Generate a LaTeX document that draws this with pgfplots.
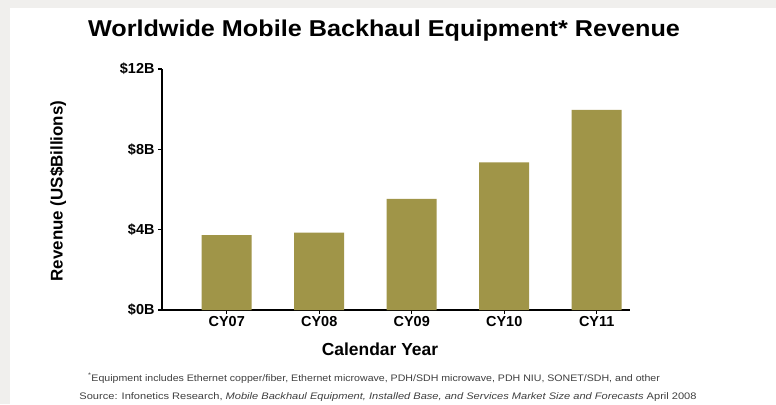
\documentclass[border=0pt]{standalone}
\usepackage{fontspec}
\setmainfont{Liberation Sans}
\usepackage{pgfplots}
\pgfplotsset{compat=1.18}
\definecolor{barc}{HTML}{A09548}
\definecolor{bgc}{HTML}{F0EFED}
\begin{document}
\begin{tikzpicture}[x=1bp,y=1bp]
\fill[bgc] (0,0) rectangle (776,404);
\fill[white] (10,0) rectangle (776,396);
\begin{axis}[
  at={(162bp,94bp)}, anchor=south west,
  scale only axis, width=468bp, height=241bp,
  xmin=-0.7, xmax=4.36, ymin=0, ymax=12,
  axis x line*=bottom, axis y line*=left,
  axis line style={line width=1.4pt},
  ytick={0,4,8,12}, yticklabels={\$0B,\$4B,\$8B,\$12B},
  xtick={0,1,2,3,4}, xticklabels={CY07,CY08,CY09,CY10,CY11},
  tick align=outside, major tick length=4bp,
  tick style={black, line width=1.2pt},
  ticklabel style={font=\bfseries\fontsize{14.5}{16}\selectfont},
  xticklabel style={yshift=1bp},
  ybar, bar width=50bp,
]
\addplot[fill=barc, draw=none] coordinates {(0,3.73) (1,3.85) (2,5.53) (3,7.35) (4,9.96)};
\end{axis}
\node[anchor=base, xscale=1.10, font=\bfseries\fontsize{23}{26}\selectfont] at (384,367) {Worldwide Mobile Backhaul Equipment* Revenue};
\node[rotate=90, font=\bfseries\fontsize{17}{19}\selectfont] at (58,213) {Revenue (US\$Billions)};
\node[anchor=base, font=\bfseries\fontsize{17.5}{19}\selectfont] at (380,49) {Calendar Year};
\node[xscale=1.12, font=\fontsize{9.5}{11}\selectfont, text=black!75] at (374,26) {\textsuperscript{*}Equipment includes Ethernet copper/fiber, Ethernet microwave, PDH/SDH microwave, PDH NIU, SONET/SDH, and other};
\node[xscale=1.17, font=\fontsize{9.5}{11}\selectfont, text=black!75] at (388,7) {Source: Infonetics Research, \textit{Mobile Backhaul Equipment, Installed Base, and Services Market Size and Forecasts} April 2008};
\end{tikzpicture}
\end{document}
